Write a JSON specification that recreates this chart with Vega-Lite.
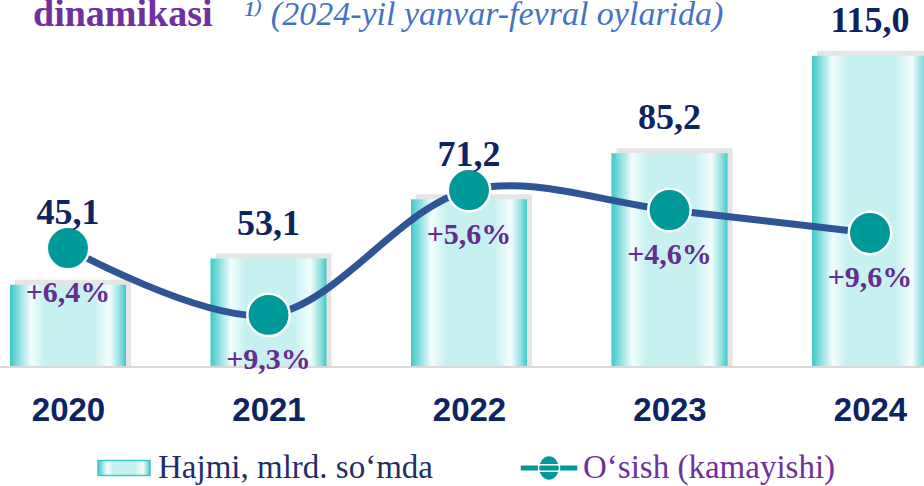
{
  "$schema": "https://vega.github.io/schema/vega-lite/v6.json",
  "width": 924,
  "height": 367,
  "autosize": {"type": "none"},
  "padding": {"left": 0, "right": 0, "top": 0, "bottom": 119},
  "title": {
    "text": "dinamikasi",
    "subtitle": "\u200b\u2003\u2003\u2003\u2003\u2003\u2003\u2009¹⁾  (2024-yil yanvar-fevral oylarida)",
    "anchor": "start",
    "frame": "group",
    "orient": "top",
    "offset": -34,
    "dx": 33,
    "font": "'Liberation Serif', 'Times New Roman', 'DejaVu Serif', serif",
    "fontSize": 38,
    "fontWeight": "bold",
    "color": "#7030a0",
    "subtitleFont": "'Liberation Serif', 'Times New Roman', 'DejaVu Serif', serif",
    "subtitleFontSize": 34,
    "subtitleFontStyle": "italic",
    "subtitleColor": "#4472c4",
    "subtitlePadding": -36
  },
  "data": {
    "values": [
      {"year": "2020", "value": 45.1, "growth": 0.064, "curve": 56.3},
      {"year": "2021", "value": 53.1, "growth": 0.093, "curve": 35.9},
      {"year": "2022", "value": 71.2, "growth": 0.056, "curve": 74.0},
      {"year": "2023", "value": 85.2, "growth": 0.046, "curve": 67.9},
      {"year": "2024", "value": 115.0, "growth": 0.096, "curve": 60.9}
    ]
  },
  "encoding": {
    "x": {
      "field": "year",
      "type": "nominal",
      "scale": {"type": "point", "range": [68, 870], "padding": 0},
      "axis": {
        "title": null,
        "domain": false,
        "ticks": false,
        "tickSize": 0,
        "grid": false,
        "labelAngle": 0,
        "labelFont": "'Liberation Sans', Arial, sans-serif",
        "labelFontWeight": "bold",
        "labelFontSize": 33,
        "labelColor": "#0c2461",
        "labelBaseline": "alphabetic",
        "labelPadding": 53
      }
    }
  },
  "layer": [
    {
      "mark": {"type": "bar", "width": 116, "color": "#000000", "opacity": 0.1, "xOffset": 5, "yOffset": -5},
      "encoding": {
        "y": {"field": "value", "type": "quantitative", "scale": {"domain": [20, 132], "zero": false, "nice": false}, "axis": null},
        "y2": {"datum": 20}
      }
    },
    {
      "mark": {
        "type": "bar", "width": 116, "opacity": 1, "strokeWidth": 0,
        "fill": {"gradient": "linear", "x1": 0, "y1": 0, "x2": 1, "y2": 0, "stops": [
          {"offset": 0, "color": "#3ec8c8"},
          {"offset": 0.08, "color": "#8fe0e0"},
          {"offset": 0.18, "color": "#f4fdfd"},
          {"offset": 0.3, "color": "#c6f1f0"},
          {"offset": 0.72, "color": "#c6f1f0"},
          {"offset": 0.86, "color": "#f4fdfd"},
          {"offset": 0.95, "color": "#8fe0e0"},
          {"offset": 1, "color": "#3ec8c8"}
        ]}
      },
      "encoding": {
        "y": {"field": "value", "type": "quantitative"},
        "y2": {"datum": 20},
        "stroke": {
          "datum": "Hajmi, mlrd. so‘mda",
          "scale": {"range": ["#3ec8c8"]},
          "legend": {
            "orient": "none", "legendX": 98, "legendY": 442, "title": null, "padding": 0,
            "symbolSize": 2500, "labelOffset": 8, "labelColor": "#1f2d6b",
            "symbolType": "M-1.04,-0.3H1.04V0.3H-1.04Z",
            "encode": {
              "symbols": {"update": {
                "strokeWidth": {"value": 0},
                "fill": {"signal": "{gradient: 'linear', x1: 0, y1: 0, x2: 1, y2: 0, stops: [{offset: 0, color: '#3ec8c8'}, {offset: 0.18, color: '#f4fdfd'}, {offset: 0.3, color: '#c6f1f0'}, {offset: 0.72, color: '#c6f1f0'}, {offset: 0.86, color: '#f4fdfd'}, {offset: 1, color: '#3ec8c8'}]}"},
                "opacity": {"value": 1}
              }}
            }
          }
        }
      }
    },
    {
      "mark": {"type": "rule", "color": "#d9d9d9", "strokeWidth": 2},
      "encoding": {"y": {"datum": 20}, "x": null}
    },
    {
      "mark": {"type": "line", "interpolate": "catmull-rom", "color": "#2f5597", "strokeWidth": 7},
      "encoding": {"y": {"field": "curve", "type": "quantitative"}}
    },
    {
      "mark": {"type": "point", "shape": "circle", "filled": true, "size": 1800, "opacity": 1, "stroke": "white", "strokeWidth": 2.5},
      "encoding": {
        "y": {"field": "curve", "type": "quantitative"},
        "fill": {
          "datum": "O‘sish (kamayishi)",
          "scale": {"range": ["#009999"]},
          "legend": {
            "orient": "none", "legendX": 523, "legendY": 442, "title": null, "padding": 0,
            "symbolSize": 2500, "labelOffset": 8, "labelColor": "#7030a0",
            "symbolType": "M-1.16,-0.13H1.16V0.13H-1.16Z M0.42,0A0.42,0.5 0 1,1 -0.42,0A0.42,0.5 0 1,1 0.42,0Z",
            "encode": {
              "symbols": {"update": {
                "strokeWidth": {"value": 0},
                "opacity": {"value": 1}
              }}
            }
          }
        }
      }
    },
    {
      "transform": [
        {"fold": ["value", "curve"], "as": ["k", "v"]},
        {"aggregate": [{"op": "max", "field": "v", "as": "top"}, {"op": "max", "field": "value", "as": "value"}], "groupby": ["year"]}
      ],
      "mark": {"type": "text", "baseline": "alphabetic", "dy": -24, "font": "'Liberation Serif', 'Times New Roman', 'DejaVu Serif', serif", "fontWeight": "bold", "fontSize": 36, "color": "#0c2461"},
      "encoding": {
        "y": {"field": "top", "type": "quantitative"},
        "text": {"field": "value", "type": "quantitative", "format": ".1f"}
      }
    },
    {
      "mark": {"type": "text", "baseline": "middle", "dy": 45, "font": "'Liberation Serif', 'Times New Roman', 'DejaVu Serif', serif", "fontWeight": "bold", "fontSize": 30, "color": "#652d90"},
      "encoding": {
        "y": {"field": "curve", "type": "quantitative"},
        "text": {"field": "growth", "type": "quantitative", "format": "+.1%"}
      }
    }
  ],
  "config": {
    "view": {"stroke": null},
    "locale": {"number": {"decimal": ",", "thousands": " ", "grouping": [3], "currency": ["", ""], "percent": "%"}},
    "legend": {
      "direction": "horizontal",
      "labelFont": "'Liberation Serif', 'Times New Roman', 'DejaVu Serif', serif",
      "labelFontSize": 33,
      "labelLimit": 400,
      "labelBaseline": "middle"
    }
  }
}
